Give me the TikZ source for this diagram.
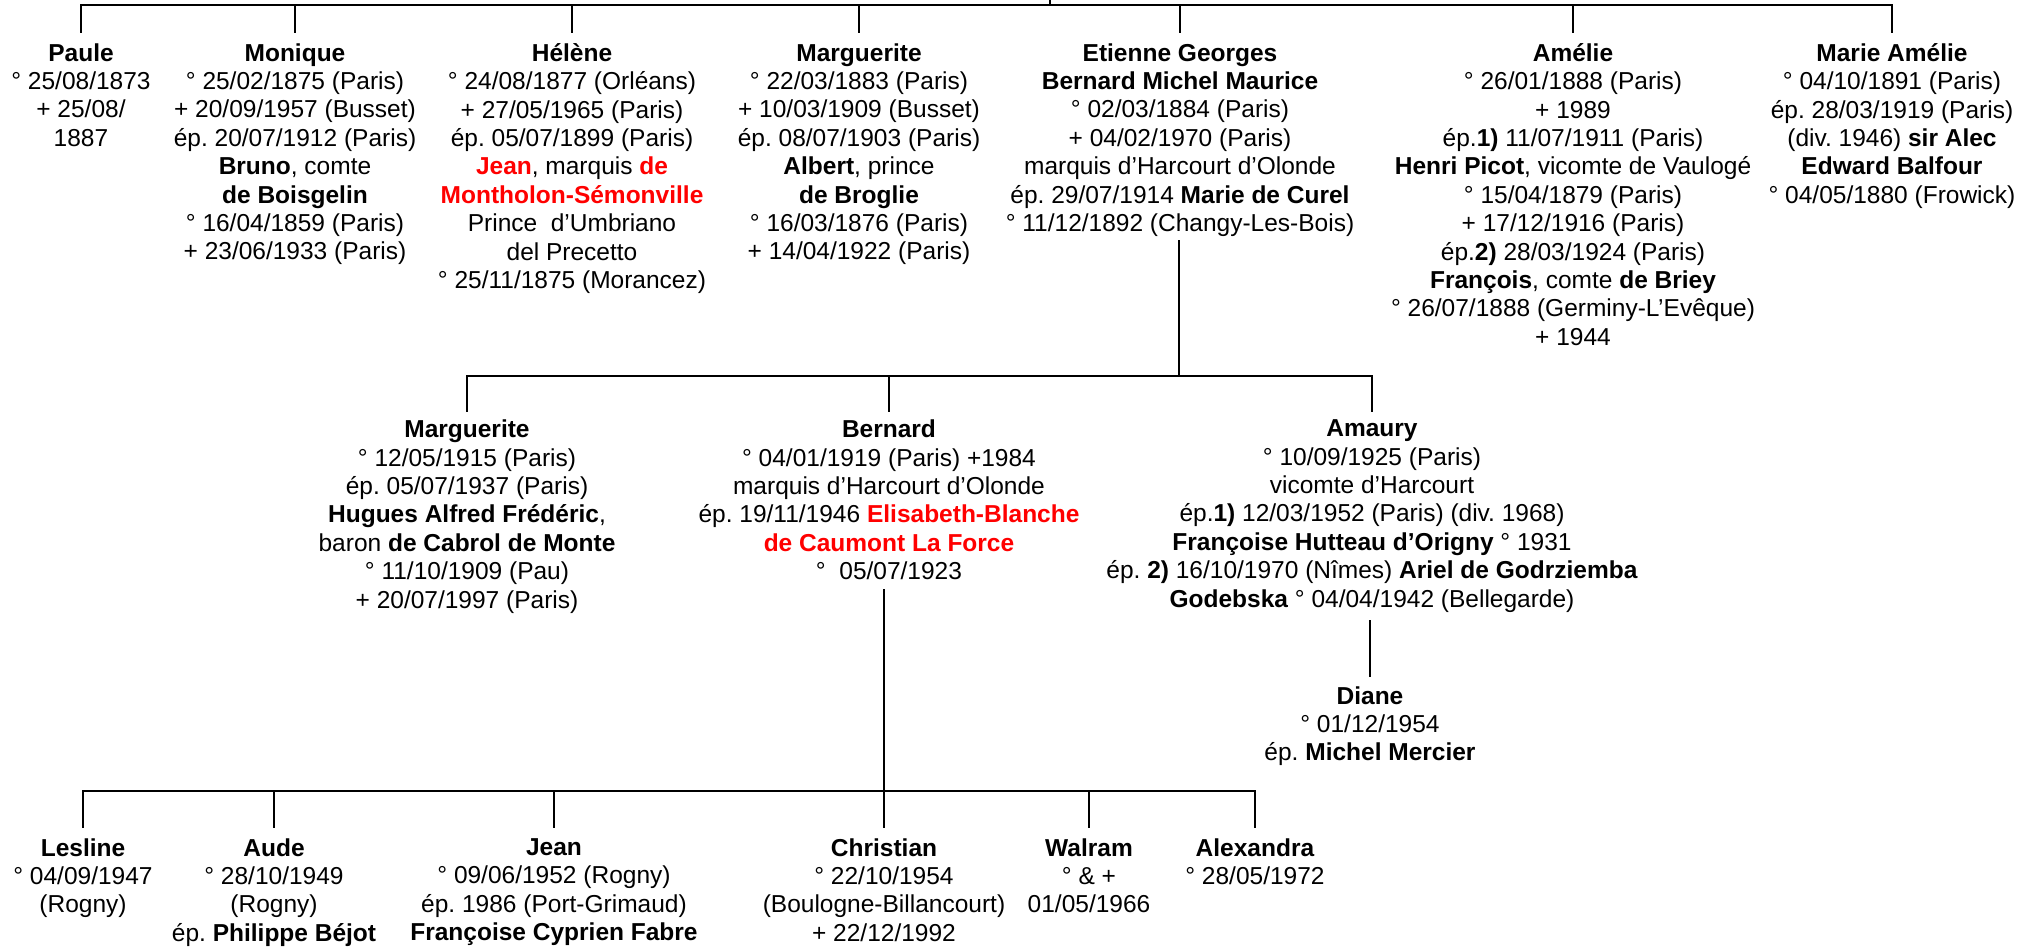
\documentclass[tikz,border=0pt]{standalone}
\usepackage{fontspec}
\setmainfont{Liberation Sans}
\usetikzlibrary{calc}
\newcommand{\redname}[1]{\textcolor{red}{\textbf{#1}}}
\frenchspacing

\begin{document}
\begin{tikzpicture}[x=0.5pt,y=-0.5pt,
    line/.style={line width=1.3pt, line cap=rect},
    person/.style={align=center, inner sep=0pt, anchor=north,
      font=\fontsize{12.25}{14.2}\selectfont,
      execute at begin node={\rule{0pt}{9.5pt}}}]
  \useasboundingbox (0,0) rectangle (2030,948);

  % first generation
  \node[person] (paule) at (81,43) {\textbf{Paule}\\° 25/08/1873\\+ 25/08/\\1887};
  \node[person] (monique) at (295,43) {\textbf{Monique}\\° 25/02/1875 (Paris)\\+ 20/09/1957 (Busset)\\ép. 20/07/1912 (Paris)\\\textbf{Bruno}, comte\\\textbf{de Boisgelin}\\° 16/04/1859 (Paris)\\+ 23/06/1933 (Paris)};
  \node[person] (helene) at (572,43) {\textbf{Hélène}\\° 24/08/1877 (Orléans)\\+ 27/05/1965 (Paris)\\ép. 05/07/1899 (Paris)\\\redname{Jean}, marquis \redname{de}\\\redname{Montholon-Sémonville}\\Prince~~d’Umbriano\\del Precetto\\° 25/11/1875 (Morancez)};
  \node[person] (marguerite) at (859,43) {\textbf{Marguerite}\\° 22/03/1883 (Paris)\\+ 10/03/1909 (Busset)\\ép. 08/07/1903 (Paris)\\\textbf{Albert}, prince\\\textbf{de Broglie}\\° 16/03/1876 (Paris)\\+ 14/04/1922 (Paris)};
  \node[person] (etienne) at (1180,43) {\textbf{Etienne Georges}\\\textbf{Bernard Michel Maurice}\\° 02/03/1884 (Paris)\\+ 04/02/1970 (Paris)\\marquis d’Harcourt d’Olonde\\ép. 29/07/1914 \textbf{Marie de Curel}\\° 11/12/1892 (Changy-Les-Bois)};
  \node[person] (amelie) at (1573,43) {\textbf{Amélie}\\° 26/01/1888 (Paris)\\+ 1989\\ép.\textbf{1)} 11/07/1911 (Paris)\\\textbf{Henri Picot}, vicomte de Vaulogé\\° 15/04/1879 (Paris)\\+ 17/12/1916 (Paris)\\ép.\textbf{2)} 28/03/1924 (Paris)\\\textbf{François}, comte \textbf{de Briey}\\° 26/07/1888 (Germiny-L’Evêque)\\+ 1944};
  \node[person] (mamelie) at (1892,43) {\textbf{Marie Amélie}\\° 04/10/1891 (Paris)\\ép. 28/03/1919 (Paris)\\(div. 1946) \textbf{sir Alec}\\\textbf{Edward Balfour}\\° 04/05/1880 (Frowick)};

  % second generation
  \node[person] (marg2) at (467,419.5) {\textbf{Marguerite}\\° 12/05/1915 (Paris)\\ép. 05/07/1937 (Paris)\\\textbf{Hugues Alfred Frédéric},\\baron \textbf{de Cabrol de Monte}\\° 11/10/1909 (Pau)\\+ 20/07/1997 (Paris)};
  \node[person] (bernard) at (889,419.5) {\textbf{Bernard}\\° 04/01/1919 (Paris) +1984\\marquis d’Harcourt d’Olonde\\ép. 19/11/1946 \redname{Elisabeth-Blanche}\\\redname{de Caumont La Force}\\°~~05/07/1923};
  \node[person] (amaury) at (1372,419.5) {\textbf{Amaury}\\° 10/09/1925 (Paris)\\vicomte d’Harcourt\\ép.\textbf{1)} 12/03/1952 (Paris) (div. 1968)\\\textbf{Françoise Hutteau d’Origny} ° 1931\\ép. \textbf{2)} 16/10/1970 (Nîmes) \textbf{Ariel de Godrziemba}\\\textbf{Godebska} ° 04/04/1942 (Bellegarde)};
  \node[person] (diane) at (1370,686) {\textbf{Diane}\\° 01/12/1954\\ép. \textbf{Michel Mercier}};

  % third generation
  \node[person] (lesline) at (83,838) {\textbf{Lesline}\\° 04/09/1947\\(Rogny)};
  \node[person] (aude) at (274,838) {\textbf{Aude}\\° 28/10/1949\\(Rogny)\\ép. \textbf{Philippe Béjot}};
  \node[person] (jean) at (554,838) {\textbf{Jean}\\° 09/06/1952 (Rogny)\\ép. 1986 (Port-Grimaud)\\\textbf{Françoise Cyprien Fabre}};
  \node[person] (christian) at (884,838) {\textbf{Christian}\\° 22/10/1954\\(Boulogne-Billancourt)\\+ 22/12/1992};
  \node[person] (walram) at (1089,838) {\textbf{Walram}\\° \& +\\01/05/1966};
  \node[person] (alexandra) at (1255,838) {\textbf{Alexandra}\\° 28/05/1972};

  % branches
  \coordinate (top) at (1050,0);
  \coordinate (bar1) at (1050,5);
  \coordinate (bar2) at (1179,376);
  \coordinate (bar3) at (884,791);

  \draw[line] (top) -- (bar1);
  \draw[line] (paule.north |- bar1) -- (mamelie.north |- bar1);
  \foreach \n in {paule,monique,helene,marguerite,etienne,amelie,mamelie}
    \draw[line] (\n.north) ++(0,-11) -- (\n.north |- bar1);

  \draw[line] (etienne.south -| bar2) ++(0,4) -- (bar2);
  \draw[line] (marg2.north |- bar2) -- (amaury.north |- bar2);
  \foreach \n in {marg2,bernard,amaury}
    \draw[line] (\n.north) ++(0,-8.5) -- (\n.north |- bar2);

  \draw[line] (amaury.south -| diane.north) ++(0,9) -- ($(diane.north)+(0,-10)$);

  \draw[line] (bernard.south -| bar3) ++(0,9.5) -- (bar3);
  \draw[line] (lesline.north |- bar3) -- (alexandra.north |- bar3);
  \foreach \n in {lesline,aude,jean,christian,walram,alexandra}
    \draw[line] (\n.north) ++(0,-11) -- (\n.north |- bar3);
\end{tikzpicture}
\end{document}
